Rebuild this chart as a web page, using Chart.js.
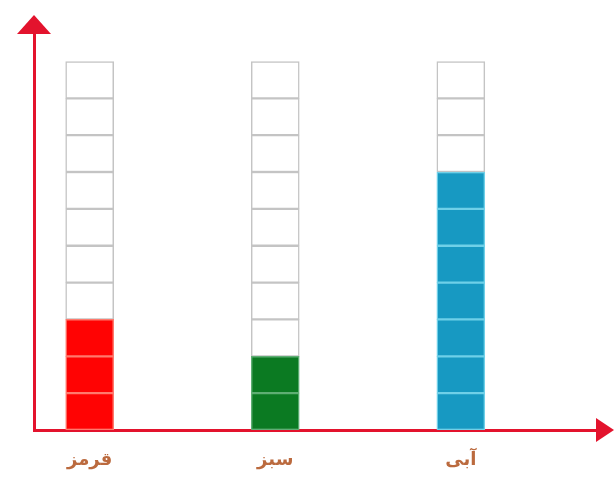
<!DOCTYPE html>
<html>
<head>
<meta charset="utf-8">
<script src="https://cdn.jsdelivr.net/npm/chart.js@4/dist/chart.umd.min.js"></script>
<style>
  html, body { margin: 0; padding: 0; background: #fff; overflow: hidden; }
  canvas { display: block; filter: blur(0.6px); }
</style>
</head>
<body>
<canvas id="myChart" width="616" height="478"></canvas>
<script>
var categories = ["قرمز", "سبز", "آبی"];
var counts = [3, 2, 7];
var capacity = 10;

var fillColors = ["#ff0303", "#0b7a22", "#1799c2"];
var sepColors = ["#ff7a6e", "#5fae74", "#6fd0e8"];
var axisRed = "#e3132d";

// one dataset per row of boxes
var datasets = [];
for (var k = 0; k < capacity; k++) {
    datasets.push({
        data: categories.map(function (c, i) {
            return { x: i + 1, y: 1 };
        }),
        backgroundColor: categories.map(function (c, i) {
            return k < counts[i] ? fillColors[i] : "#ffffff";
        }),
        borderColor: categories.map(function (c, i) {
            return k < counts[i] ? sepColors[i] : "#c4c4c4";
        }),
        borderWidth: 1.5,
        borderSkipped: false,
        barThickness: 48,
    });
}

function drawArrows(chart) {
    var ctx = chart.ctx;
    var a = chart.chartArea;
    ctx.save();
    ctx.fillStyle = axisRed;
    // up arrow
    ctx.beginPath();
    ctx.moveTo(a.left, a.top - 17);
    ctx.lineTo(a.left - 17, a.top + 2);
    ctx.lineTo(a.left + 17, a.top + 2);
    ctx.closePath();
    ctx.fill();
    // right arrow
    ctx.beginPath();
    ctx.moveTo(a.right + 14, a.bottom);
    ctx.lineTo(a.right - 4, a.bottom - 12);
    ctx.lineTo(a.right - 4, a.bottom + 12);
    ctx.closePath();
    ctx.fill();
    ctx.restore();
}

const ctx = document.getElementById("myChart").getContext("2d");
const myChart = new Chart(ctx, {
    type: "bar",
    data: { datasets: datasets },
    plugins: [{ afterDraw: drawArrows }],
    options: {
        responsive: false,
        animation: false,
        layout: { padding: { left: 34, right: 16, top: 32, bottom: 4 } },
        plugins: { legend: { display: false }, tooltip: { enabled: false } },
        scales: {
            x: {
                type: "linear",
                stacked: true,
                offset: false,
                min: 0.7,
                max: 3.75,
                grid: { display: false, drawTicks: false },
                border: { color: axisRed, width: 3 },
                afterBuildTicks: function (scale) {
                    scale.ticks = categories.map(function (c, i) {
                        return { value: i + 1 };
                    });
                },
                afterFit: function (scale) {
                    scale.height = 44;
                },
                ticks: {
                    padding: 20,
                    color: "#bb6a3e",
                    font: { family: "DejaVu Sans", size: 18, weight: "bold" },
                    callback: function (value) {
                        return categories[value - 1];
                    },
                },
            },
            y: {
                stacked: true,
                min: 0,
                max: 10.8,
                grid: { display: false, drawTicks: false },
                border: { color: axisRed, width: 3 },
                ticks: { display: false },
            },
        },
    },
});
</script>
</body>
</html>
